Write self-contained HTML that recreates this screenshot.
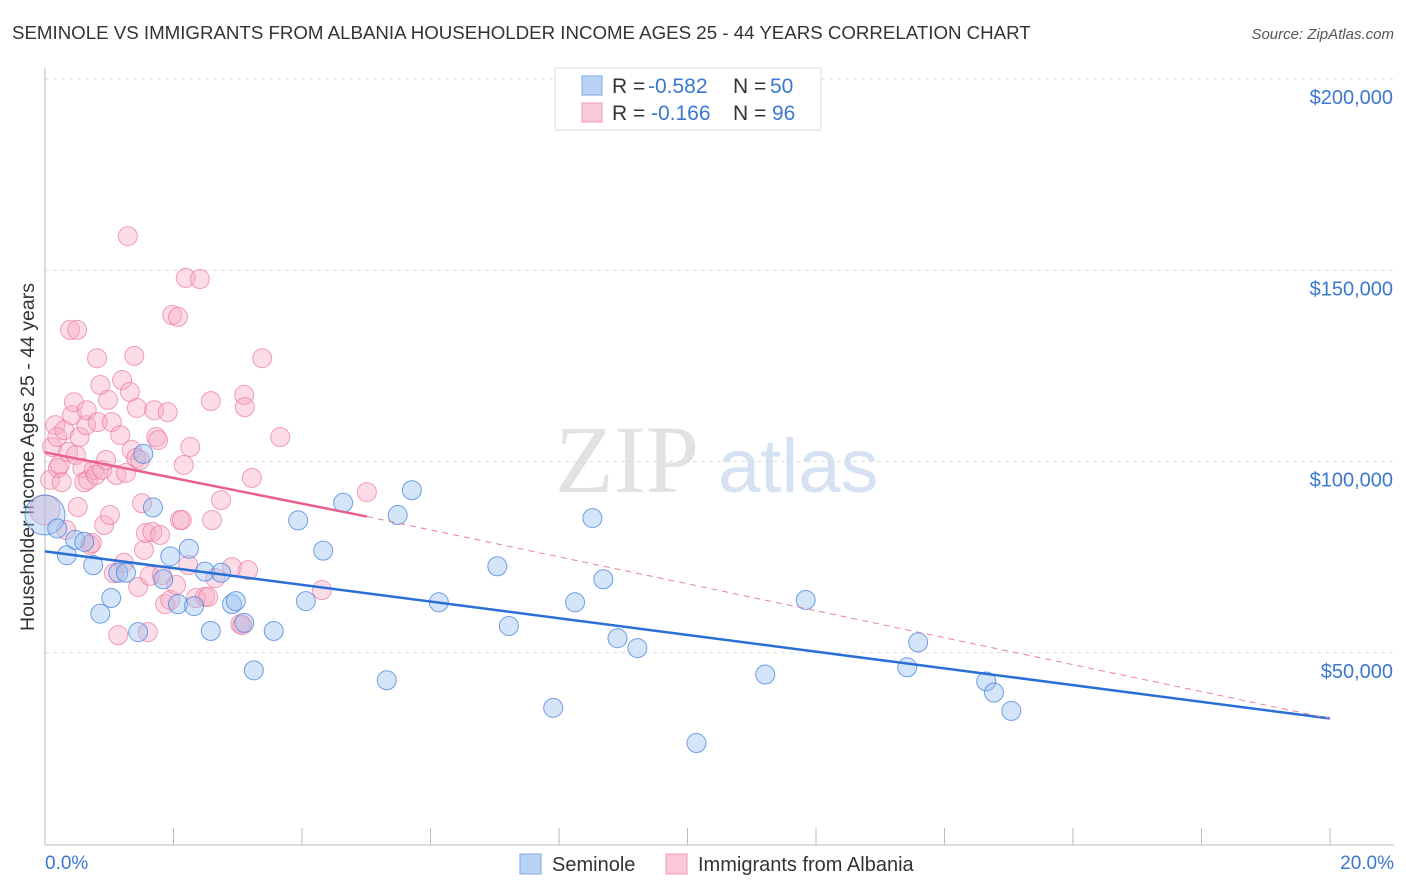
<!DOCTYPE html>
<html><head><meta charset="utf-8"><style>
body{margin:0;background:#fff;font-family:"Liberation Sans",sans-serif;}
#wrap{position:relative;width:1406px;height:892px;overflow:hidden;}
svg{position:absolute;left:0;top:0;}
</style></head><body>
<div id="wrap">
<svg id="chart" width="1406" height="892">
<text x="12" y="39" font-size="18.7" fill="#333">SEMINOLE VS IMMIGRANTS FROM ALBANIA HOUSEHOLDER INCOME AGES 25 - 44 YEARS CORRELATION CHART</text>
<text x="1394" y="39" font-size="15" fill="#555" font-style="italic" text-anchor="end">Source: ZipAtlas.com</text>
<text x="34" y="457" font-size="19.5" fill="#333" text-anchor="middle" transform="rotate(-90 34 457)">Householder Income Ages 25 - 44 years</text>
<text x="555" y="492" font-size="96" fill="#e2e2e2" font-family="Liberation Serif,serif">ZIP</text>
<text x="718" y="492" font-size="76" fill="#d6e2f3">atlas</text>
<g id="grid"></g><g id="axes"></g><g id="pts"></g><g id="lines"></g>
<g>
<rect x="555" y="68" width="266" height="62" fill="#fff" stroke="#ddd"/>
<rect x="582" y="76" width="20" height="19" fill="#b8d3f5" stroke="#7aa8e6"/>
<rect x="582" y="103" width="20" height="19" fill="#fbc8d8" stroke="#f19ab4"/>
<text x="612" y="93" font-size="21" fill="#333">R =</text>
<text x="648" y="93" font-size="21" fill="#3b78d0">-0.582</text>
<text x="733" y="93" font-size="21" fill="#333">N =</text>
<text x="770" y="93" font-size="21" fill="#3b78d0">50</text>
<text x="612" y="120" font-size="21" fill="#333">R =</text>
<text x="651" y="120" font-size="21" fill="#3b78d0">-0.166</text>
<text x="733" y="120" font-size="21" fill="#333">N =</text>
<text x="772" y="120" font-size="21" fill="#3b78d0">96</text>
</g>
<g>
<rect x="520" y="854" width="21" height="20" fill="#b8d3f5" stroke="#7aa8e6"/>
<text x="552" y="871" font-size="20" fill="#333">Seminole</text>
<rect x="666" y="854" width="21" height="20" fill="#fbc8d8" stroke="#f19ab4"/>
<text x="698" y="871" font-size="20" fill="#333">Immigrants from Albania</text>
</g>
</svg>
</div>
<script>
const yTicks=[50000,100000,150000,200000];
const yTickLabels=["$50,000","$100,000","$150,000","$200,000"];
const xTickLabels=["0.0%","20.0%"];
const blueX=[0,0.19,0.34,0.47,0.61,0.75,0.86,1.03,1.14,1.26,1.45,1.53,1.68,1.84,1.95,2.07,2.24,2.32,2.49,2.58,2.74,2.91,2.97,3.1,3.25,3.56,3.94,4.06,4.33,4.64,5.32,5.49,5.71,6.13,7.04,7.22,7.91,8.25,8.52,8.69,8.91,9.22,10.14,11.21,11.84,13.42,13.59,14.65,14.77,15.04];
const blueY=[86000,82500,75500,79500,79000,72900,60200,64300,70900,70900,55400,102000,88000,69200,75200,62700,77200,62200,71200,55700,70900,62700,63500,57800,45400,55700,84600,63500,76700,89200,42800,86000,92500,63200,72600,57000,35600,63200,85200,69200,53800,51200,26400,44300,63800,46200,52700,42500,39600,34800];
const pinkX=[0,0.08,0.11,0.16,0.19,0.2,0.23,0.26,0.3,0.33,0.36,0.39,0.42,0.45,0.48,0.5,0.51,0.54,0.58,0.61,0.64,0.65,0.67,0.7,0.73,0.76,0.79,0.81,0.82,0.86,0.89,0.92,0.95,0.98,1.01,1.04,1.07,1.11,1.14,1.17,1.2,1.23,1.26,1.29,1.32,1.35,1.39,1.42,1.43,1.45,1.48,1.51,1.54,1.57,1.6,1.63,1.67,1.7,1.73,1.76,1.79,1.82,1.87,1.91,1.95,1.98,2.04,2.07,2.1,2.13,2.16,2.19,2.23,2.26,2.35,2.41,2.49,2.54,2.58,2.6,2.65,2.74,2.91,3.04,3.07,3.1,3.11,3.16,3.22,3.38,3.66,4.31,5.01];
const pinkY=[87300,95200,103800,109500,106400,98300,99100,94600,108200,82100,102500,134400,112100,115500,101700,134400,88100,106400,98300,94600,109500,113400,95200,78200,78700,97800,96500,127000,110300,120000,97800,83400,100400,116100,86000,110300,70800,96500,54600,106900,121300,73500,97000,158900,118200,103000,127600,100900,114000,67200,100400,89100,76900,81300,55400,70100,81600,113400,106400,105600,80800,70300,62700,112900,63800,138300,67700,137800,84700,84700,99100,148000,72900,103800,64300,147700,64600,64600,115800,84700,69500,89900,72400,57500,57200,117400,114200,71600,95700,127000,106400,66400,92000];
const blueLine=[0,76500,20,32800];
const pinkLine=[0,102400,5.01,85600];
const L=45,R=1330,T=79,B=844;
const xS=p=>L+p/20*(R-L);
const yS=v=>B-(v/200000)*(B-T);
const NS="http://www.w3.org/2000/svg";
function mk(tag,attrs,parent){const e=document.createElementNS(NS,tag);for(const k in attrs)e.setAttribute(k,attrs[k]);document.getElementById(parent).appendChild(e);return e;}
yTicks.forEach((v,i)=>{
  const g=mk('line',{x1:L,x2:1394,y1:yS(v),y2:yS(v),stroke:'#ddd','stroke-dasharray':'4,4'},'grid');
  
  
  const t=mk('text',{x:1393,y:yS(v)+25,'font-size':20,fill:'#3b78d0','text-anchor':'end'},'grid');
  t.textContent=yTickLabels[i];
  
  
});
const ax=mk('line',{x1:L,x2:1394,y1:845,y2:845,stroke:'#bbb'},'axes');


const ay=mk('line',{x1:L,x2:L,y1:68,y2:845,stroke:'#bbb'},'axes');


for(let i=1;i<=10;i++){const tk=mk('line',{x1:xS(i*2),x2:xS(i*2),y1:828,y2:845,stroke:'#bbb'},'axes');

}
const x0=mk('text',{x:45,y:869,'font-size':19,fill:'#3b78d0'},'axes');x0.textContent=xTickLabels[0];


const x1=mk('text',{x:1394,y:869,'font-size':19,fill:'#3b78d0','text-anchor':'end'},'axes');x1.textContent=xTickLabels[1];


pinkX.forEach((p,i)=>{const r=i===0?15:9.5;const c=mk('circle',{cx:xS(p),cy:yS(pinkY[i]),r:r,fill:'rgba(248,170,195,0.4)',stroke:'rgba(236,120,160,0.7)','stroke-width':1},'pts');

});
blueX.forEach((p,i)=>{const r=i===0?20:9.5;const c=mk('circle',{cx:xS(p),cy:yS(blueY[i]),r:r,fill:'rgba(150,190,240,0.4)',stroke:'rgba(70,130,220,0.75)','stroke-width':1},'pts');

});
const bl=mk('line',{x1:xS(blueLine[0]),y1:yS(blueLine[1]),x2:xS(blueLine[2]),y2:yS(blueLine[3]),stroke:'#2a6fd6','stroke-width':2.5},'lines');


const pd=mk('line',{x1:xS(pinkLine[2]),y1:yS(pinkLine[3]),x2:xS(20),y2:yS(blueLine[3]),stroke:'#eb7fa3','stroke-width':1,'stroke-dasharray':'6,5'},'lines');


const pl=mk('line',{x1:xS(pinkLine[0]),y1:yS(pinkLine[1]),x2:xS(pinkLine[2]),y2:yS(pinkLine[3]),stroke:'#e8608e','stroke-width':2.5},'lines');


</script>
</body></html>
